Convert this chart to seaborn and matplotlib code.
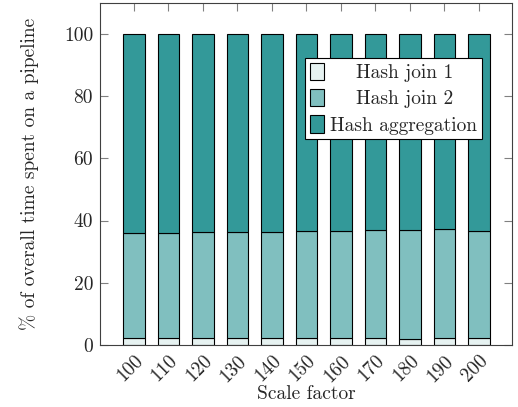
import matplotlib
matplotlib.use("Agg")
import matplotlib.pyplot as plt
import seaborn as sns
import numpy as np
import pandas as pd

scale_factors = ["100", "110", "120", "130", "140", "150", "160", "170", "180", "190", "200"]
hash_join_1 = [2.2, 2.2, 2.1, 2.1, 2.2, 2.2, 2.3, 2.2, 1.9, 2.2, 2.2]
hash_join_2_top = [36.1, 36.1, 36.2, 36.2, 36.4, 36.75, 36.75, 36.8, 37.1, 37.3, 36.5]
hash_join_2 = [t - a for t, a in zip(hash_join_2_top, hash_join_1)]
hash_aggregation = [100 - t for t in hash_join_2_top]

sns.set_theme(style="white")
plt.rcParams['font.family'] = ['cmr10', 'DejaVu Serif']
plt.rcParams['axes.formatter.use_mathtext'] = True
plt.rcParams['mathtext.fontset'] = 'cm'

fig = plt.figure(figsize=(5.18, 4.07), dpi=100)
ax = fig.add_axes([100/518, 62/407, 412/518, 342.3/407])

df = pd.DataFrame({"sf": scale_factors, "h1": hash_join_1, "h2": hash_join_2, "agg": hash_aggregation})
c1, c2, c3 = "#e6f2f1", "#80bfbf", "#339999"
bw = 0.62
sns.barplot(data=df, x="sf", y="h1", color=c1, ax=ax, width=bw, edgecolor="black",
            linewidth=0.8, saturation=1, label="    Hash join 1", errorbar=None)
sns.barplot(data=df, x="sf", y="h2", color=c2, ax=ax, width=bw, edgecolor="black",
            linewidth=0.8, saturation=1, label="    Hash join 2", errorbar=None,
            bottom=np.array(hash_join_1))
sns.barplot(data=df, x="sf", y="agg", color=c3, ax=ax, width=bw, edgecolor="black",
            linewidth=0.8, saturation=1, label="Hash aggregation", errorbar=None,
            bottom=np.array(hash_join_2_top))

fs = 14
ax.set_xlim(-0.98, 10.96)
ax.set_ylim(0, 110)
ax.set_yticks([0, 20, 40, 60, 80, 100])
ax.set_yticklabels(["0", "20", "40", "60", "80", "100"], fontsize=fs)
ax.set_xticks(range(len(scale_factors)))
ax.set_xticklabels(scale_factors, rotation=45, ha="right", rotation_mode="anchor", fontsize=fs)
ax.tick_params(axis="both", direction="in", length=6, width=0.8, color="#808080",
               top=True, right=True, bottom=True, left=True, pad=5)
for s in ax.spines.values():
    s.set_color("#404040")
    s.set_linewidth(0.8)
ax.set_xlabel("Scale factor", fontsize=fs, labelpad=0)
ax.set_ylabel("% of overall time spent on a pipeline", fontsize=14, labelpad=18)

leg = ax.legend(loc="upper left", bbox_to_anchor=((305-100)/412, (345-58)/342.3),
                fontsize=fs, frameon=True, fancybox=False, edgecolor="black",
                framealpha=1, borderpad=0.25, handlelength=0.75, handleheight=1.0,
                handletextpad=0.3, labelspacing=0.35, borderaxespad=0)
leg.get_frame().set_linewidth(0.8)

fig.savefig("out.png", dpi=100)
